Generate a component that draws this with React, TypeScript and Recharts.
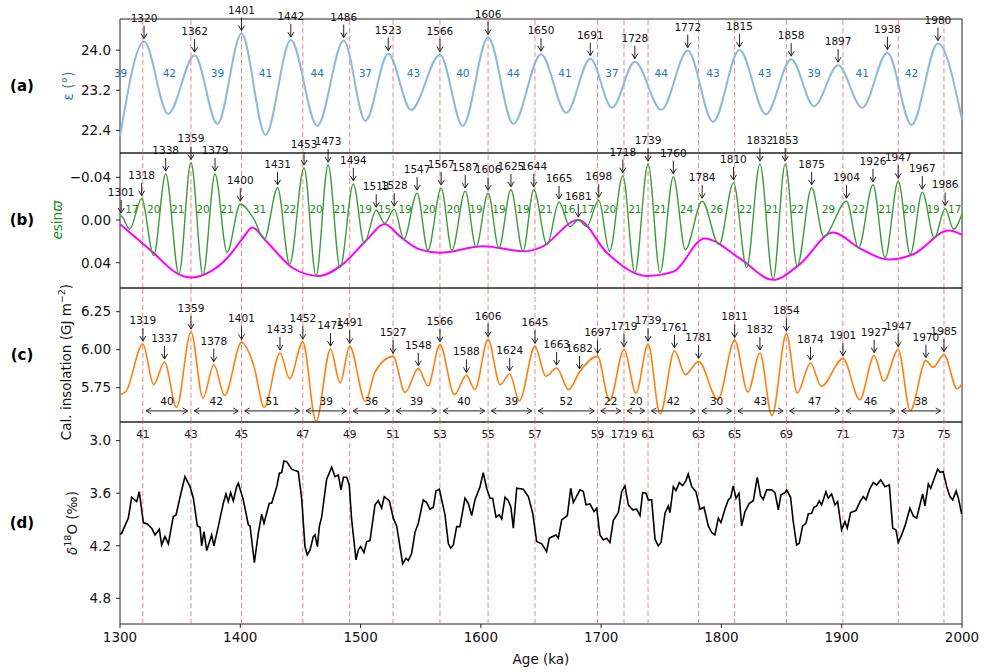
import React from 'react';
import { ComposedChart, Line, Scatter, XAxis, YAxis, ReferenceLine, ReferenceArea } from 'recharts';

const FONT = 'DejaVu Sans, Verdana, sans-serif';
const W = 984;

// (a) obliquity, degrees
const obliquity: [number, number][] = [
  [1300, 22.27], [1320, 24.17], [1340, 22.73], [1362, 23.9], [1381, 22.53], [1401, 24.33],
  [1421, 22.31], [1442, 24.2], [1464, 22.49], [1486, 24.19], [1504, 22.59], [1523, 23.93],
  [1542, 22.81], [1566, 23.91], [1585, 22.49], [1606, 24.25], [1627, 22.53], [1650, 23.92],
  [1671, 22.75], [1691, 23.83], [1709, 22.85], [1728, 23.77], [1750, 22.81], [1772, 23.99],
  [1793, 22.57], [1815, 24.0], [1837, 22.72], [1858, 23.82], [1877, 22.88], [1897, 23.7],
  [1917, 22.85], [1938, 23.95], [1958, 22.51], [1980, 24.13], [2000, 22.61],
];
const oblPeaks = [1320, 1362, 1401, 1442, 1486, 1523, 1566, 1606, 1650, 1691, 1728, 1772, 1815, 1858, 1897, 1938, 1980];
const oblPeriods: [number, number][] = [
  [1300.5, 39], [1341, 42], [1381, 39], [1421, 41], [1464, 44], [1504, 37], [1544, 43], [1585, 40],
  [1627, 44], [1670, 41], [1709, 37], [1750, 44], [1793, 43], [1836, 43], [1877, 39], [1917, 41], [1958, 42],
];

// (b) precession index and eccentricity envelope
const precession: [number, number][] = [
  [1300, -0.003], [1301, -0.0037], [1308, 0.0086], [1318, -0.02], [1328, 0.0333], [1338, -0.0431],
  [1349, 0.0508], [1359, -0.0539], [1369, 0.0514], [1379, -0.0431], [1389, 0.0302], [1400, -0.0148],
  [1411, -0.0015], [1420, 0.0178], [1431, -0.0302], [1441, 0.0416], [1453, -0.0487], [1463, 0.0524],
  [1473, -0.0515], [1483, 0.0446], [1494, -0.0339], [1503, 0.0215], [1513, -0.0092], [1520, 0.003],
  [1528, -0.0102], [1536, 0.0178], [1547, -0.0252], [1556, 0.0283], [1567, -0.0299], [1576, 0.0283],
  [1587, -0.0271], [1596, 0.0252], [1606, -0.0252], [1615, 0.0261], [1625, -0.0283], [1635, 0.0293],
  [1644, -0.0283], [1655, 0.0231], [1665, -0.0169], [1674, 0.0062], [1681, 0.0], [1688, 0.006],
  [1698, -0.0185], [1707, 0.0293], [1718, -0.0416], [1728, 0.0493], [1739, -0.0524], [1749, 0.0493],
  [1760, -0.0406], [1770, 0.0277], [1784, -0.0176], [1798, 0.0231], [1810, -0.0348], [1821, 0.0446],
  [1832, -0.0524], [1843, 0.0554], [1853, -0.0524], [1863, 0.0431], [1875, -0.0302], [1885, 0.0154],
  [1904, -0.0176], [1914, 0.0262], [1926, -0.033], [1936, 0.0354], [1947, -0.0363], [1957, 0.0323],
  [1967, -0.0261], [1977, 0.0169], [1986, -0.0108], [1993, 0.0086], [2000, -0.006],
];
const eccentricity: [number, number][] = [
  [1300, 0.0037], [1328, 0.031], [1347, 0.0497], [1359, 0.0539], [1375, 0.0484], [1389, 0.0358],
  [1402, 0.0172], [1410, 0.0071], [1422, 0.0203], [1444, 0.0452], [1465, 0.0524], [1486, 0.0406],
  [1505, 0.0187], [1520, 0.0037], [1533, 0.0156], [1549, 0.0275], [1566, 0.0306], [1602, 0.0246],
  [1636, 0.0293], [1650, 0.0256], [1681, 0.0], [1705, 0.031], [1738, 0.0524], [1760, 0.0484],
  [1786, 0.0172], [1815, 0.0358], [1843, 0.056], [1865, 0.0416], [1893, 0.0117], [1915, 0.0265],
  [1939, 0.037], [1960, 0.0318], [1989, 0.0099], [2000, 0.0139],
];
const precPeaks = [
  1301, 1318, 1338, 1359, 1379, 1400, 1431, 1453, 1473, 1494, 1513, 1528, 1547, 1567, 1587, 1606, 1625,
  1644, 1665, 1681, 1698, 1718, 1739, 1760, 1784, 1810, 1832, 1853, 1875, 1904, 1926, 1947, 1967, 1986,
];
const precPeriods: [number, number][] = [
  [1310, 17], [1328, 20], [1348, 21], [1369, 20], [1389, 21], [1416, 31], [1441, 22], [1463, 20],
  [1483, 21], [1504, 19], [1520, 15], [1537, 19], [1557, 20], [1577, 20], [1596, 19], [1615, 19],
  [1635, 19], [1654, 21], [1673, 16], [1689, 17], [1707, 20], [1728, 21], [1749, 21], [1771, 24],
  [1796, 26], [1820, 22], [1842, 21], [1863, 22], [1889, 29], [1914, 22], [1936, 21], [1956, 20],
  [1976, 19], [1994, 17],
];

// (c) caloric insolation, GJ m-2
const insolation: [number, number][] = [
  [1300, 5.704], [1305, 5.726], [1319, 6.037], [1328, 5.77], [1337, 5.919], [1347, 5.62], [1359, 6.116],
  [1369, 5.682], [1378, 5.901], [1387, 5.699], [1401, 6.048], [1411, 5.901], [1420, 5.62], [1433, 5.978],
  [1441, 5.809], [1452, 6.05], [1463, 5.528], [1475, 6.004], [1483, 5.781], [1491, 6.022], [1504, 5.66],
  [1512, 5.853], [1527, 5.956], [1537, 5.719], [1548, 5.875], [1556, 5.763], [1566, 6.033], [1578, 5.704],
  [1588, 5.831], [1595, 5.737], [1606, 6.066], [1616, 5.77], [1624, 5.84], [1632, 5.664], [1645, 6.022],
  [1654, 5.825], [1663, 5.879], [1673, 5.737], [1682, 5.853], [1697, 5.956], [1707, 5.664], [1719, 6.0],
  [1729, 5.715], [1739, 6.037], [1749, 5.577], [1761, 5.993], [1770, 5.836], [1781, 5.923], [1797, 5.671],
  [1811, 6.061], [1822, 5.722], [1832, 5.978], [1842, 5.566], [1854, 6.103], [1863, 5.715], [1874, 5.912],
  [1883, 5.759], [1901, 5.941], [1915, 5.671], [1927, 5.961], [1935, 5.791], [1947, 6.0], [1957, 5.599],
  [1970, 5.928], [1976, 5.884], [1985, 5.967], [1996, 5.743], [2000, 5.774],
];
const insPeaks = [
  1319, 1337, 1359, 1378, 1401, 1433, 1452, 1475, 1491, 1527, 1548, 1566, 1588, 1606, 1624, 1645, 1663,
  1682, 1697, 1719, 1739, 1761, 1781, 1811, 1832, 1854, 1874, 1901, 1927, 1947, 1970, 1985,
];
const insPeriods = [40, 42, 51, 39, 36, 39, 40, 39, 52, 22, 20, 42, 30, 43, 47, 46, 38];

// dashed marker lines and MIS numbers
const markerAges = [1319, 1359, 1401, 1452, 1491, 1527, 1566, 1606, 1645, 1697, 1719, 1739, 1781, 1811, 1854, 1901, 1947, 1985];
const misLabels = ['41', '43', '45', '47', '49', '51', '53', '55', '57', '59', '1719', '61', '63', '65', '69', '71', '73', '75'];

// (d) benthic d18O
const d18o: [number, number][] = [
  [1300, 4.07], [1301.4, 4.056], [1306.9, 3.885], [1309.7, 3.646], [1313.9, 3.696], [1316, 3.582], [1319.4, 3.935],
  [1322.7, 3.95], [1326.3, 3.999], [1329.1, 4.076], [1332.7, 4.011], [1334.6, 4.19], [1337.4, 4.095], [1340.2, 4.178],
  [1344.3, 3.867], [1346.6, 3.848], [1349.9, 3.646], [1354, 3.411], [1358.2, 3.525], [1361, 3.657], [1364.3, 3.973],
  [1366.5, 3.988], [1367.9, 4.201], [1369.8, 4.038], [1372.1, 4.255], [1376.2, 4.076], [1378.1, 4.201], [1381.7, 3.981],
  [1385.9, 3.714], [1388.1, 3.608], [1390, 3.696], [1392, 3.593], [1394.2, 3.688], [1397, 3.525], [1398.4, 3.486],
  [1402.5, 3.676], [1406.7, 3.962], [1408.1, 3.973], [1411.7, 4.392], [1415, 4.056], [1417.8, 3.84], [1419.7, 3.943],
  [1424.1, 3.714], [1426.1, 3.714], [1430.3, 3.525], [1432.5, 3.372], [1434.4, 3.365], [1436.3, 3.232], [1438.6, 3.24],
  [1442.7, 3.326], [1445.5, 3.342], [1448.2, 3.354], [1451, 3.657], [1453.8, 4.209], [1455.7, 4.304], [1458, 4.247],
  [1460.7, 4.095], [1462.1, 4.076], [1464.1, 4.209], [1465.7, 3.981], [1467.7, 3.867], [1471.8, 3.44], [1476, 3.303],
  [1478.7, 3.411], [1481.5, 3.391], [1483.7, 3.562], [1485.7, 3.418], [1488.5, 3.418], [1490.6, 3.505], [1492.6, 3.905],
  [1496.2, 4.361], [1498.1, 4.247], [1500.1, 4.209], [1502.8, 4.277], [1505.1, 4.152], [1507.8, 4.141], [1512, 3.733],
  [1514.7, 3.685], [1517.5, 3.771], [1519.7, 3.639], [1523.9, 3.685], [1527.2, 3.885], [1530, 3.973], [1535, 4.407],
  [1537.8, 4.342], [1539.7, 4.369], [1542.5, 4.285], [1545.2, 4.049], [1548, 3.943], [1552.1, 3.676], [1555, 3.707],
  [1557.7, 3.783], [1560.5, 3.76], [1562.7, 3.574], [1565.5, 3.555], [1568.8, 3.76], [1570.2, 3.848], [1573, 4.178],
  [1575, 4.227], [1577.1, 4.19], [1579.9, 3.981], [1582.6, 3.981], [1586.8, 3.657], [1589.5, 3.714], [1592.4, 3.855],
  [1595.1, 3.676], [1599.3, 3.525], [1602, 3.365], [1604.8, 3.543], [1607.6, 3.657], [1609.8, 3.657], [1612.6, 3.874],
  [1615.3, 3.848], [1617.3, 3.893], [1620.1, 3.646], [1622.8, 3.685], [1625, 3.76], [1627, 3.999], [1629.8, 3.543],
  [1635.3, 3.555], [1639.5, 3.639], [1643.1, 3.828], [1646.4, 4.152], [1650.6, 4.178], [1654.7, 4.266], [1656.9, 4.113],
  [1659.7, 4.095], [1662.5, 4.076], [1664.4, 4.113], [1667.2, 3.905], [1671.9, 3.855], [1674.7, 3.543], [1676.9, 3.707],
  [1682.4, 3.562], [1685.2, 3.582], [1687.4, 3.733], [1690.7, 3.722], [1694.1, 3.81], [1696.3, 3.771], [1699, 4.076],
  [1701.8, 4.133], [1704.6, 4.113], [1707.3, 4.163], [1710.1, 3.913], [1714.3, 3.821], [1717.1, 3.582], [1719.8, 3.517],
  [1722.6, 3.733], [1726.2, 3.79], [1729.5, 3.783], [1732.3, 3.855], [1734.5, 3.593], [1737.3, 3.6], [1739.2, 3.676],
  [1742, 3.676], [1744.8, 4.125], [1747.5, 4.201], [1749.8, 4.163], [1753.1, 3.828], [1755.8, 3.745], [1757.2, 3.821],
  [1760, 3.525], [1762.2, 3.57], [1765, 3.479], [1767.8, 3.513], [1770.5, 3.456], [1772.4, 3.38], [1775.3, 3.525],
  [1778.8, 3.582], [1782.2, 3.783], [1785.5, 3.76], [1789.1, 3.973], [1791.9, 4.049], [1794.6, 4.076], [1797.4, 3.885],
  [1799.6, 3.935], [1802.9, 3.783], [1805.7, 3.676], [1807.7, 3.65], [1809.8, 3.517], [1812.1, 3.657], [1814.6, 3.6],
  [1816.8, 3.973], [1819.6, 3.81], [1823.2, 3.714], [1826.5, 3.685], [1829.8, 3.418], [1832.6, 3.631], [1834.8, 3.669],
  [1837.6, 3.562], [1841.8, 3.562], [1844.5, 3.593], [1847.3, 3.79], [1849.5, 3.619], [1852.8, 3.593], [1854.2, 3.562],
  [1857.5, 3.646], [1859.7, 3.924], [1862.5, 4.19], [1864.7, 4.17], [1867.5, 3.973], [1870.3, 3.943], [1872.2, 3.836],
  [1875, 3.828], [1876.9, 3.76], [1879.2, 3.745], [1881.3, 3.688], [1883.3, 3.733], [1886.9, 3.582], [1888.8, 3.657],
  [1891.6, 3.608], [1894.4, 3.733], [1896.6, 3.696], [1899.9, 4.019], [1902.7, 3.924], [1904.6, 3.999], [1907.4, 3.821],
  [1911.8, 3.798], [1915.2, 3.696], [1917.9, 3.639], [1920.2, 3.676], [1923.5, 3.543], [1926.3, 3.479], [1929.1, 3.505],
  [1932.4, 3.448], [1936, 3.525], [1939.6, 3.505], [1942.4, 3.999], [1945.1, 4.019], [1947, 4.163], [1949.8, 4.076],
  [1952.6, 3.973], [1956.7, 3.771], [1959.5, 3.859], [1962.3, 3.885], [1967.3, 3.608], [1969.2, 3.745], [1972, 3.494],
  [1974, 3.543], [1976.7, 3.44], [1979.8, 3.326], [1981.7, 3.36], [1984.4, 3.354], [1987.3, 3.525], [1990, 3.639],
  [1992.3, 3.676], [1995.1, 3.574], [1997, 3.657], [1999.7, 3.836],
];

const ageTicks = [1300, 1400, 1500, 1600, 1700, 1800, 1900, 2000];

const rows = (pairs: [number, number][]) => pairs.map(([age, v]) => ({ age, v }));
const peakRows = (pairs: [number, number][], ages: number[]) =>
  ages.map((a) => ({ age: a, v: (pairs.find((p) => p[0] === a) || [a, NaN])[1], label: String(a) }));
const textRows = (pairs: [number, number][], level: number) =>
  pairs.map(([age, n]) => ({ age, v: level, label: String(n) }));

function PeakTag(props: any) {
  const { cx, cy, payload } = props;
  if (cx == null || cy == null || isNaN(cy)) return null;
  return (
    <g>
      <line x1={cx} y1={cy - 16} x2={cx} y2={cy - 3} stroke="#222" strokeWidth={1} />
      <polyline points={`${cx - 3},${cy - 8} ${cx},${cy - 3} ${cx + 3},${cy - 8}`} fill="none" stroke="#222" strokeWidth={1} />
      <text x={cx} y={cy - 24} textAnchor="middle" dominantBaseline="central" fontSize={10.5} fill="#111" fontFamily={FONT}>
        {payload.label}
      </text>
    </g>
  );
}

const plainText = (color: string) => (props: any) => (
  <text x={props.cx} y={props.cy} textAnchor="middle" dominantBaseline="central" fontSize={10.5} fill={color} fontFamily={FONT}>
    {props.payload.label}
  </text>
);

function SpanArrow(props: any) {
  const { x1, x2, y1, text } = props;
  const y = y1;
  return (
    <g>
      <line x1={x1} y1={y} x2={x2} y2={y} stroke="#222" strokeWidth={1} />
      <polyline points={`${x1 + 5},${y - 3} ${x1},${y} ${x1 + 5},${y + 3}`} fill="none" stroke="#222" strokeWidth={1} />
      <polyline points={`${x2 - 5},${y - 3} ${x2},${y} ${x2 - 5},${y + 3}`} fill="none" stroke="#222" strokeWidth={1} />
      <text x={(x1 + x2) / 2} y={y - 9.5} textAnchor="middle" dominantBaseline="central" fontSize={10.5} fill="#111" fontFamily={FONT}>
        {text}
      </text>
    </g>
  );
}

const sideLabel = (letter: string, cy: number, x: number, color: string, content: React.ReactNode, labelCy = cy) => () => (
  <g>
    <text x={22} y={cy} textAnchor="middle" dominantBaseline="central" fontWeight="bold" fontSize={15} fill="#000" fontFamily={FONT}>
      {letter}
    </text>
    <text transform={`translate(${x},${labelCy}) rotate(-90)`} textAnchor="middle" dominantBaseline="central" fontSize={13.5} fill={color} fontFamily={FONT}>
      {content}
    </text>
  </g>
);

const tickStyle = { fontSize: 13.5, fill: '#111', fontFamily: FONT };
const redLines = () =>
  markerAges.map((a) => (
    <ReferenceLine key={`m${a}`} x={a} stroke="#f26d6d" strokeOpacity={0.85} strokeDasharray="5 3" strokeWidth={1} />
  ));

const xHidden = <XAxis dataKey="age" type="number" domain={[1300, 2000]} hide />;

export default function App() {
  const aDom: [number, number] = [21.95, 24.62];
  const bDom: [number, number] = [-0.0628, 0.0637];
  const cDom: [number, number] = [5.524, 6.406];
  const dDom: [number, number] = [2.787, 5.093];

  return (
    <div style={{ position: 'absolute', left: 0, top: 0, width: W, height: 672, background: '#fff', fontFamily: FONT }}>
      {/* (a) */}
      <div style={{ position: 'absolute', left: 0, top: 0 }}>
        <ComposedChart width={W} height={161} margin={{ top: 19, right: 22, bottom: 8, left: 70 }}>
          {xHidden}
          <YAxis
            width={50}
            domain={aDom}
            ticks={[22.4, 23.2, 24.0]}
            tickFormatter={(v: number) => v.toFixed(1)}
            tick={tickStyle}
            tickSize={4}
            tickMargin={5}
            axisLine={false}
            stroke="#222"
            label={{ content: sideLabel('(a)', 86, 68, '#1f77b4', 'ε (°)') }}
          />
          {redLines()}
          <Line data={rows(obliquity)} dataKey="v" type="monotone" stroke="#8cb9dc" strokeWidth={2} dot={false} activeDot={false} isAnimationActive={false} />
          <Scatter data={textRows(oblPeriods, 23.54)} dataKey="v" shape={plainText('#1f77b4')} isAnimationActive={false} />
          <Scatter data={peakRows(obliquity, oblPeaks)} dataKey="v" shape={PeakTag} isAnimationActive={false} />
          <ReferenceArea x1={1300} x2={2000} y1={aDom[0]} y2={aDom[1]} fill="none" fillOpacity={0} stroke="#222" strokeWidth={1} />
        </ComposedChart>
      </div>

      {/* (b) */}
      <div style={{ position: 'absolute', left: 0, top: 120 }}>
        <ComposedChart width={W} height={176} margin={{ top: 33, right: 22, bottom: 8, left: 70 }}>
          {xHidden}
          <YAxis
            width={50}
            domain={bDom}
            reversed
            ticks={[-0.04, 0, 0.04]}
            tickFormatter={(v: number) => (v < 0 ? '\u2212' : '') + Math.abs(v).toFixed(2)}
            tick={tickStyle}
            tickSize={4}
            tickMargin={5}
            axisLine={false}
            stroke="#222"
            label={{
              content: sideLabel('(b)', 100, 57, '#1e8c1e', (
                <>
                  <tspan fontStyle="italic">e</tspan>sin<tspan fontStyle="italic">ϖ</tspan>
                </>
              )),
            }}
          />
          {redLines()}
          <Line data={rows(eccentricity)} dataKey="v" type="monotone" stroke="#ff00ff" strokeWidth={2} dot={false} activeDot={false} isAnimationActive={false} />
          <Line data={rows(precession)} dataKey="v" type="monotone" stroke="#3c9c3c" strokeWidth={1.4} dot={false} activeDot={false} isAnimationActive={false} />
          <Scatter data={textRows(precPeriods, -0.0103)} dataKey="v" shape={plainText('#1e8c1e')} isAnimationActive={false} />
          <Scatter data={peakRows(precession, precPeaks)} dataKey="v" shape={PeakTag} isAnimationActive={false} />
          <ReferenceArea x1={1300} x2={2000} y1={bDom[0]} y2={bDom[1]} fill="none" fillOpacity={0} stroke="#222" strokeWidth={1} />
        </ComposedChart>
      </div>

      {/* (c) */}
      <div style={{ position: 'absolute', left: 0, top: 270 }}>
        <ComposedChart width={W} height={190} margin={{ top: 18, right: 22, bottom: 38, left: 70 }}>
          {xHidden}
          <YAxis
            width={50}
            domain={cDom}
            ticks={[5.75, 6.0, 6.25]}
            tickFormatter={(v: number) => v.toFixed(2)}
            tick={tickStyle}
            tickSize={4}
            tickMargin={5}
            axisLine={false}
            stroke="#222"
            label={{
              content: sideLabel('(c)', 85, 66, '#111', (
                <>
                  Cal. insolation (GJ m<tspan dy={-5} fontSize={9.5}>−2</tspan>
                  <tspan dy={5}>)</tspan>
                </>
              ), 92),
            }}
          />
          {redLines()}
          <Line data={rows(insolation)} dataKey="v" type="monotone" stroke="#ff7f0e" strokeWidth={1.6} dot={false} activeDot={false} isAnimationActive={false} />
          {insPeriods.map((n, i) => (
            <ReferenceLine
              key={`p${i}`}
              segment={[
                { x: markerAges[i] + 2.7, y: 5.597 },
                { x: markerAges[i + 1] - 2.7, y: 5.597 },
              ]}
              shape={(p: any) => <SpanArrow x1={p.x1} x2={p.x2} y1={p.y1} text={String(n)} />}
            />
          ))}
          <Scatter data={peakRows(insolation, insPeaks)} dataKey="v" shape={PeakTag} isAnimationActive={false} />
          <ReferenceArea x1={1300} x2={2000} y1={cDom[0]} y2={cDom[1]} fill="none" fillOpacity={0} stroke="#222" strokeWidth={1} />
        </ComposedChart>
      </div>

      {/* (d) */}
      <div style={{ position: 'absolute', left: 0, top: 410 }}>
        <ComposedChart width={W} height={262} margin={{ top: 12, right: 22, bottom: 8, left: 70 }}>
          <XAxis
            dataKey="age"
            type="number"
            domain={[1300, 2000]}
            ticks={ageTicks}
            tick={tickStyle}
            tickSize={4}
            tickMargin={4}
            axisLine={false}
            stroke="#222"
            height={40}
            label={{ value: 'Age (ka)', position: 'insideBottom', offset: 0, fontSize: 13.5, fill: '#111', fontFamily: FONT }}
          />
          <YAxis
            width={50}
            domain={dDom}
            reversed
            ticks={[3.0, 3.6, 4.2, 4.8]}
            tickFormatter={(v: number) => v.toFixed(1)}
            tick={tickStyle}
            tickSize={4}
            tickMargin={5}
            axisLine={false}
            stroke="#222"
            label={{
              content: sideLabel('(d)', 113, 72, '#111', (
                <>
                  <tspan fontStyle="italic">δ</tspan>
                  <tspan dy={-5} fontSize={9.5}>18</tspan>
                  <tspan dy={5}>O (‰)</tspan>
                </>
              )),
            }}
          />
          {redLines()}
          <Line data={rows(d18o)} dataKey="v" type="linear" stroke="#000" strokeWidth={1.6} dot={false} activeDot={false} isAnimationActive={false} />
          <Scatter
            data={markerAges.map((a, i) => ({ age: a, v: 2.924, label: misLabels[i] }))}
            dataKey="v"
            shape={plainText('#111')}
            isAnimationActive={false}
          />
          <ReferenceArea x1={1300} x2={2000} y1={dDom[0]} y2={dDom[1]} fill="none" fillOpacity={0} stroke="#222" strokeWidth={1} />
        </ComposedChart>
      </div>
    </div>
  );
}
